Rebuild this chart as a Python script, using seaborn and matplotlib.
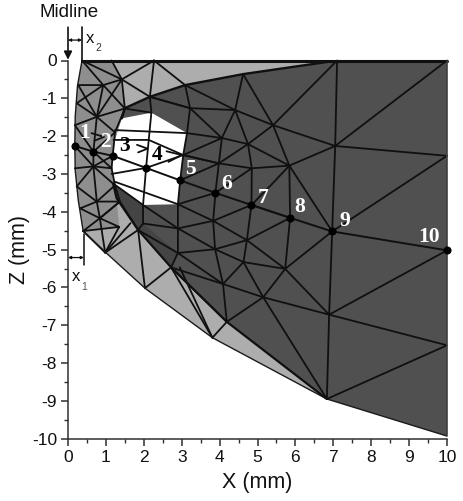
import numpy as np
import matplotlib
matplotlib.use("Agg")
import matplotlib.pyplot as plt
import seaborn as sns
from matplotlib.ticker import MultipleLocator

sns.set_theme(style="ticks")
plt.rcParams['font.family'] = ['Liberation Sans', 'DejaVu Sans']

# Numbered measurement points
point_x = [0.18, 0.67, 1.18, 2.06, 2.96, 3.89, 4.84, 5.86, 6.97, 10.0]
point_z = [-2.26, -2.41, -2.52, -2.84, -3.17, -3.5, -3.82, -4.16, -4.52, -5.02]
point_labels = ['1', '2', '3', '4', '5', '6', '7', '8', '9', '10']

# Region outlines (X, Z in mm)
outer_x = [0.37, 0.25, 0.19, 0.18, 0.19, 0.27, 0.4, 1.0, 2.03, 3.81, 6.83, 10, 10]
outer_z = [0, -0.67, -1.49, -2.26, -2.9, -3.69, -4.51, -5.08, -6.02, -7.33, -8.95, -9.93, 0]
dark_x = [7.1, 4.62, 3.09, 2.16, 1.5, 1.42, 1.24, 1.16, 1.19, 1.28, 1.85, 2.72, 4.19, 6.83, 10, 10]
dark_z = [0, -0.36, -0.65, -0.96, -1.26, -1.53, -2.1, -2.71, -3.25, -3.64, -4.48, -5.47, -6.91, -8.95, -9.93, 0]
band_x = [1.19, 1.98, 1.98, 2.9, 2.72, 1.85, 1.28]
band_z = [-3.25, -3.82, -4.31, -5.09, -5.47, -4.48, -3.64]
hole_x = [1.42, 2.2, 3.14, 3.04, 2.96, 2.9, 1.98, 1.19, 1.16, 1.19, 1.24]
hole_z = [-1.53, -1.38, -1.92, -2.5, -3.17, -3.8, -3.82, -3.25, -2.71, -2.5, -2.1]
left_x = [0.37, 0.25, 0.19, 0.18, 0.19, 0.27, 0.4, 1.35, 1.28, 1.19, 1.16, 1.24, 1.42, 1.5, 1.42, 1.15]
left_z = [0, -0.67, -1.49, -2.26, -2.9, -3.69, -4.51, -4.4, -3.64, -3.25, -2.71, -2.1, -1.53, -1.27, -0.5, 0]

# Mesh lines (X, Z in mm)
mesh_lines = [
    # left band
    [(0.37, 0), (0.93, -0.65), (0.76, -1.49), (0.67, -2.41), (0.67, -2.8), (0.76, -3.73), (0.84, -4.17), (0.98, -5.08)],
    [(1.15, 0), (1.42, -0.5), (1.5, -1.27), (1.24, -1.9), (1.18, -2.52), (1.15, -2.85), (1.24, -3.3), (1.37, -3.73), (1.85, -4.48)],
    [(0.27, -0.65), (0.93, -0.65), (1.42, -0.5), (2.27, 0)],
    [(0.27, -0.65), (0.76, -1.49), (1.5, -1.27), (0.93, -0.65)],
    [(0.23, -1.13), (0.93, -0.65)],
    [(0.23, -1.13), (0.76, -1.49), (1.42, -0.5)],
    [(0.37, 0), (1.42, -0.5)],
    [(0.18, -1.71), (0.76, -1.49)],
    [(0.18, -1.71), (0.67, -2.41), (1.24, -1.9), (0.76, -1.49)],
    [(0.18, -2.26), (0.67, -2.8), (1.18, -2.52)],
    [(0.18, -2.85), (0.67, -2.8), (1.15, -2.85), (0.67, -2.41)],
    [(0.23, -3.33), (0.67, -2.8), (1.24, -3.3), (0.76, -3.73), (0.23, -3.33)],
    [(0.32, -3.91), (0.76, -3.73), (1.37, -3.73), (0.84, -4.17), (0.32, -3.91)],
    [(0.4, -4.51), (0.84, -4.17), (1.35, -4.4), (0.4, -4.51), (0.98, -5.08), (1.35, -4.4)],
    [(0.84, -4.17), (1.37, -3.73)],
    [(0.98, -5.08), (1.85, -4.48), (2.03, -6.02), (2.72, -5.47)],
    [(0.98, -5.08), (1.65, -4.3)],
    # top wedge
    [(2.27, 0), (2.16, -0.96), (2.2, -1.38), (2.13, -2.1), (2.06, -2.84), (1.98, -3.82), (1.98, -4.31)],
    [(2.27, 0), (3.09, -0.65)],
    [(1.42, -0.5), (2.16, -0.96), (3.22, -1.26)],
    [(1.5, -1.27), (2.2, -1.38)],
    [(3.09, -0.65), (3.22, -1.26), (3.14, -1.92), (3.04, -2.5), (2.96, -3.17), (2.9, -3.8), (2.9, -4.44), (2.9, -5.09), (2.72, -5.47), (4.19, -6.91)],
    [(3.09, -0.65), (4.41, -1.31), (5.41, -1.71), (7.05, -2.26), (10, -2.52)],
    [(3.22, -1.26), (4.06, -2.05), (3.98, -2.72), (3.89, -3.5), (3.83, -4.24), (3.88, -4.99), (4.09, -5.91), (4.19, -6.91)],
    [(2.16, -0.96), (3.22, -1.26), (4.41, -1.31), (4.06, -2.05)],
    [(4.62, -0.36), (4.41, -1.31), (4.75, -2.21), (4.85, -2.85), (4.84, -3.82), (4.72, -4.75), (4.63, -5.33), (5.15, -6.26), (6.83, -8.95)],
    [(4.62, -0.36), (5.41, -1.71), (5.84, -2.78), (5.86, -4.16), (5.73, -5.51), (5.15, -6.26)],
    [(1.24, -1.84), (3.14, -1.92), (4.06, -2.05), (4.75, -2.21), (5.84, -2.78), (6.97, -4.52), (7.05, -2.26), (7.1, 0), (5.41, -1.71), (4.75, -2.21), (3.98, -2.72), (3.04, -2.5), (4.06, -2.05)],
    [(3.04, -2.5), (2.06, -2.84), (1.15, -3.0)],
    [(3.04, -2.5), (3.98, -2.72), (4.85, -2.85), (5.84, -2.78), (7.05, -2.26), (10, 0)],
    [(3.89, -3.5), (4.85, -2.85)],
    [(5.84, -2.78), (5.35, -3.3), (4.84, -3.82)],
    [(6.97, -4.52), (10, -2.52)],
    [(6.97, -4.52), (6.89, -6.72), (6.83, -8.95)],
    [(6.89, -6.72), (10, -7.53), (6.83, -8.95)],
    [(6.89, -6.72), (10, -5.02)],
    [(2.96, -3.17), (3.98, -2.72)],
    [(1.22, -3.2), (2.9, -3.8), (3.83, -4.24), (4.72, -4.75), (5.73, -5.51), (6.89, -6.72), (5.15, -6.26), (4.09, -5.91), (2.9, -5.09), (3.88, -4.99), (4.63, -5.33), (5.73, -5.51)],
    [(2.9, -3.8), (3.89, -3.5)],
    [(3.83, -4.24), (4.84, -3.82), (5.86, -4.16), (4.72, -4.75), (3.88, -4.99), (2.9, -4.44), (3.83, -4.24)],
    [(5.73, -5.51), (6.97, -4.52)],
    [(1.98, -3.82), (2.9, -4.44), (1.98, -4.31)],
    [(1.19, -3.25), (1.98, -3.82)],
    [(1.85, -4.48), (2.9, -5.09)],
    [(2.72, -5.47), (4.09, -5.91), (4.63, -5.33)],
    [(2.72, -5.47), (3.81, -7.33)],
    [(2.95, -5.47), (3.81, -7.33)],
    [(3.81, -7.33), (4.19, -6.91), (5.15, -6.26)],
    [(1.98, -4.31), (1.85, -4.48)],
    [(1.2, -2.1), (2.13, -2.1), (3.04, -2.5)],
    # small arrow marks beside the labels
    [(0.62, -1.92), (0.95, -2.02), (0.7, -2.12)],
    [(1.82, -2.23), (2.1, -2.33), (1.85, -2.43)],
    [(2.6, -2.4), (3.0, -2.5), (2.65, -2.68)],
]

fig = plt.figure(figsize=(4.64, 5.01), dpi=100)
ax = fig.add_axes([68/464, 1-438.7/501, 379/464, 378.2/501])

ax.fill(outer_x, outer_z, color='#adadad', lw=0, zorder=1)
ax.fill(left_x, left_z, color='#8e8e8e', lw=0, zorder=1.1)
ax.fill(dark_x, dark_z, color='#505050', lw=0, zorder=1.2)
ax.fill(band_x, band_z, color='#444444', lw=0, zorder=1.25)
ax.fill(hole_x, hole_z, color='white', lw=0, zorder=1.3)

for line in mesh_lines:
    xs, zs = zip(*line)
    ax.plot(xs, zs, color='#101010', lw=1.3, zorder=2, clip_on=False)

ax.plot(outer_x, outer_z, color='#1a1a1a', lw=1.0, zorder=2.1)
ax.plot(dark_x[:6], dark_z[:6], color='#101010', lw=1.7, zorder=2.1)
ax.plot(dark_x[8:14], dark_z[8:14], color='#101010', lw=1.6, zorder=2.1)
ax.plot([0.37, 10], [0, 0], color='#101010', lw=2.2, zorder=3, clip_on=False)
ax.plot([10, 10], [0, -9.93], color='#444444', lw=1.2, zorder=3, clip_on=False)

sns.lineplot(x=point_x, y=point_z, sort=False, color='#101010', lw=1.4, ax=ax, zorder=3, errorbar=None)
sns.scatterplot(x=point_x, y=point_z, color='black', s=34, ax=ax, zorder=4, clip_on=False, linewidth=0)

label_x = [0.43, 0.98, 1.5, 2.35, 3.22, 4.18, 5.16, 6.12, 7.3, 9.52]
label_z = [-1.93, -2.16, -2.27, -2.51, -2.86, -3.26, -3.63, -3.87, -4.24, -4.66]
label_colors = ['white', 'white', 'black', 'black', 'white', 'white', 'white', 'white', 'white', 'white']
for lx, lz, t, c in zip(label_x, label_z, point_labels, label_colors):
    ax.text(lx, lz, t, color=c, fontsize=15.5, fontweight='bold',
            family=['Liberation Serif'], ha='center', va='center', zorder=5)

ax.set_xlim(0, 10)
ax.set_ylim(-10, 0)
ax.xaxis.set_major_locator(MultipleLocator(1))
ax.xaxis.set_minor_locator(MultipleLocator(0.5))
ax.yaxis.set_major_locator(MultipleLocator(1))
ax.yaxis.set_minor_locator(MultipleLocator(0.5))
ax.tick_params(which='major', length=5, width=1.1, color='#303030', labelsize=12.5, labelcolor='#111111', pad=3)
ax.tick_params(which='minor', length=3, width=1.0, color='#303030')
ax.set_yticks(range(-10, 1))
ax.set_yticklabels([str(v) for v in range(-10, 1)])
ax.set_xlabel('X (mm)', fontsize=15.5, color='#111111', labelpad=5)
ax.set_ylabel('Z (mm)', fontsize=15.5, color='#111111', labelpad=1)
sns.despine(ax=ax)
for s in ['left', 'bottom']:
    ax.spines[s].set_color('#303030')
    ax.spines[s].set_linewidth(1.1)
ax.patch.set_alpha(0)
fig.patch.set_facecolor('white')

# Annotations above and below the plot
ax.text(0.03, 1.27, 'Midline', fontsize=13.5, color='#111111', ha='center', va='center', clip_on=False)
ax.annotate('', xy=(0, 0.02), xytext=(0, 0.88), arrowprops=dict(arrowstyle='-|>', color='#111111', lw=1.2, mutation_scale=12, shrinkA=0, shrinkB=0), annotation_clip=False)
ax.plot([0.37, 0.37], [0, 0.88], color='#111111', lw=1.2, clip_on=False, zorder=6)
ax.annotate('', xy=(0, 0.54), xytext=(0.37, 0.54), arrowprops=dict(arrowstyle='<|-|>', color='#111111', lw=0.9, mutation_scale=4, shrinkA=0, shrinkB=0), annotation_clip=False)
ax.text(0.46, 0.58, 'x', fontsize=12, color='#111111', va='center', clip_on=False)
ax.text(0.72, 0.32, '2', fontsize=7.5, color='#333333', va='center', clip_on=False)
ax.plot([0.42, 0.42], [-4.6, -5.42], color='#111111', lw=1.1, zorder=6)
ax.annotate('', xy=(0, -5.21), xytext=(0.42, -5.21), arrowprops=dict(arrowstyle='<|-|>', color='#111111', lw=0.9, mutation_scale=4, shrinkA=0, shrinkB=0), annotation_clip=False)
ax.text(0.09, -5.72, 'x', fontsize=12, color='#111111', va='center')
ax.text(0.36, -5.98, '1', fontsize=7.5, color='#555555', va='center')

fig.savefig('out.png', dpi=100)
